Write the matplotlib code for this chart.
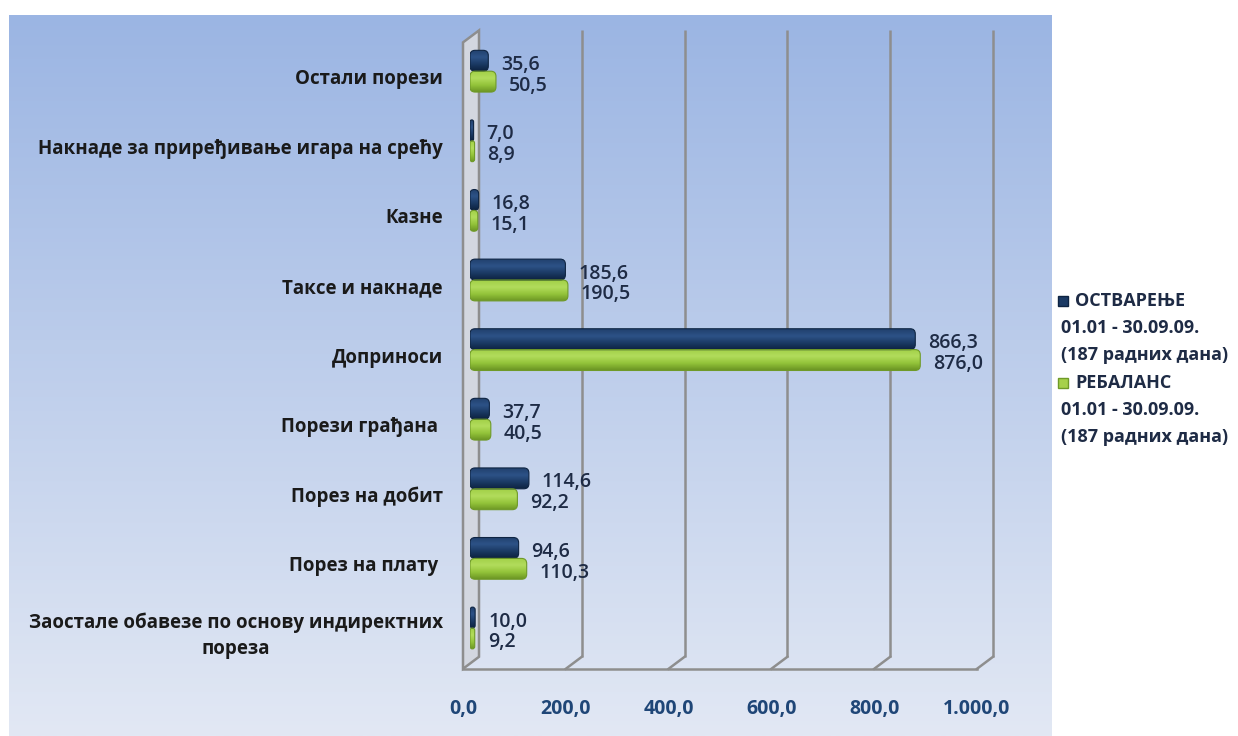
import numpy as np
import matplotlib.pyplot as plt
from matplotlib.patches import FancyBboxPatch, Polygon, Rectangle
from matplotlib.colors import LinearSegmentedColormap
from matplotlib.transforms import offset_copy, IdentityTransform

plt.rcParams['font.family'] = ['Open Sans', 'DejaVu Sans']

# categories listed top to bottom as in the chart
categories = ['Остали порези',
              'Накнаде за приређивање игара на срећу',
              'Казне',
              'Таксе и накнаде',
              'Доприноси',
              'Порези грађана ',
              'Порез на добит',
              'Порез на плату ',
              'Заостале обавезе по основу индиректних\nпореза']
ostvarenje = [35.6, 7.0, 16.8, 185.6, 866.3, 37.7, 114.6, 94.6, 10.0]
rebalans = [50.5, 8.9, 15.1, 190.5, 876.0, 40.5, 92.2, 110.3, 9.2]
xticks = [0, 200, 400, 600, 800, 1000]
xtick_labels = ['0,0', '200,0', '400,0', '600,0', '800,0', '1.000,0']
legend_labels = [['ОСТВАРЕЊЕ', '01.01 - 30.09.09.', '(187 радних дана)'],
                 ['РЕБАЛАНС', '01.01 - 30.09.09.', '(187 радних дана)']]

dark = '#1B3A64'
green = '#98C93C'
grid_c = '#8E8E8E'
text_c = '#1E2B45'
tick_c = '#1F4677'

W, H = 1238, 736
fig = plt.figure(figsize=(W / 100, H / 100), dpi=100)

# gradient background panel
bg = fig.add_axes([9 / W, 0, (1052 - 9) / W, (H - 15) / H], zorder=-5)
top = np.array([155, 181, 227]) / 255
bot = np.array([226, 232, 244]) / 255
t = np.linspace(0, 1, 256)[:, None]
grad = top[None, :] * (1 - t) + bot[None, :] * t
bg.imshow(grad[:, None, :], aspect='auto', extent=[0, 1, 0, 1])
bg.axis('off')

ax = fig.add_axes([470 / W, (H - 662.8) / H, 514 / W, 626.4 / H])
ax.set_facecolor('none')
ax.axis('off')

n = len(categories)
y = np.arange(n)[::-1]
bh = 0.30

front = offset_copy(ax.transData, fig, x=-7, y=-6, units='dots')
back = offset_copy(ax.transData, fig, x=9, y=6, units='dots')

# bars
b1 = ax.barh(y + bh / 2, ostvarenje, height=bh, color=dark)
b2 = ax.barh(y - bh / 2, rebalans, height=bh, color=green)
ax.set_xlim(0, 1000)
ax.set_ylim(-0.5, 8.5)

# left wall
fb = ax.transData.transform((0, -0.5))
ft = ax.transData.transform((0, 8.5))
wall = Polygon([fb + [-7, -6], ft + [-7, -6], ft + [9, 6], fb + [9, 6]],
               closed=True, transform=IdentityTransform(), clip_on=False,
               facecolor='#D3D7E0', edgecolor=grid_c, lw=1.8, zorder=1)
ax.add_patch(wall)

# back wall gridlines
for v in xticks[1:]:
    ax.plot([v, v], [-0.5, 8.5], color=grid_c, lw=1.8, transform=back,
            zorder=0.5, solid_capstyle='butt', clip_on=False)
# floor front edge and depth diagonals
ax.plot([0, 1000], [-0.5, -0.5], color=grid_c, lw=1.8, transform=front,
        zorder=0.5, clip_on=False)
for v in xticks[1:]:
    p = ax.transData.transform((v, -0.5))
    ax.plot([p[0] - 7, p[0] + 9], [p[1] - 6, p[1] + 6], color=grid_c, lw=1.8,
            transform=IdentityTransform(), zorder=0.5, clip_on=False)

# rounded, shaded bars
asp = (9 / 626.4) / (1000 / 514)
cm_dark = LinearSegmentedColormap.from_list('d', ['#0D2240', '#1B3A64', '#2D5287', '#21416E'])
cm_green = LinearSegmentedColormap.from_list('g', ['#6C9624', '#94C43A', '#B2DC5C', '#A2D048'])
shade = np.linspace(0, 1, 64)[:, None]
for bars, cm, edge in [(b1, cm_dark, '#0E2442'), (b2, cm_green, '#6F9A28')]:
    for r in bars:
        x0, y0 = r.get_x(), r.get_y()
        w, h = r.get_width(), r.get_height()
        r.set_visible(False)
        rs = min(10, w / 2)
        patch = FancyBboxPatch((x0, y0), w, h,
                               boxstyle=f'round,pad=0,rounding_size={rs}',
                               mutation_aspect=asp, facecolor='none',
                               edgecolor=edge, lw=0.8, zorder=4)
        ax.add_patch(patch)
        im = ax.imshow(shade, cmap=cm, aspect='auto', origin='lower',
                       extent=[x0, x0 + w, y0, y0 + h], zorder=3,
                       interpolation='bilinear')
        im.set_clip_path(patch)
ax.set_xlim(0, 1000)
ax.set_ylim(-0.5, 8.5)

# value labels
lab_t = offset_copy(ax.transData, fig, x=13, y=-4, units='dots')
for yy, v in zip(y, ostvarenje):
    ax.text(v, yy + bh / 2, f'{v:.1f}'.replace('.', ','), transform=lab_t,
            ha='left', va='center', fontsize=14, fontweight='semibold',
            color=text_c)
for yy, v in zip(y, rebalans):
    ax.text(v, yy - bh / 2, f'{v:.1f}'.replace('.', ','), transform=lab_t,
            ha='left', va='center', fontsize=14, fontweight='semibold',
            color=text_c)

# category labels
cat_t = offset_copy(ax.transData, fig, x=-27, y=-8, units='dots')
for yy, c in zip(y, categories):
    ax.text(0, yy, c, transform=cat_t, ha='right', va='center',
            multialignment='center', fontsize=13.5, fontweight='bold',
            color='#1A1A1A', linespacing=1.4)

# x tick labels
tick_t = offset_copy(ax.transData, fig, x=-7, y=-46, units='dots')
for v, s in zip(xticks, xtick_labels):
    ax.text(v, -0.5, s, transform=tick_t, ha='center', va='center',
            fontsize=14, fontweight='bold', color=tick_c)

# legend
lx, ly = 1058, [301, 383]
for (lines, col, edge) in zip(legend_labels, [dark, '#A6D14A'], ['#0E2442', '#6F9A28']):
    yy = ly.pop(0)
    fig.patches.append(Rectangle(((lx) / W, (H - yy - 5) / H), 10 / W, 10 / H,
                                 transform=fig.transFigure, facecolor=col,
                                 edgecolor=edge, lw=1))
    fig.text((lx + 17) / W, (H - yy) / H, lines[0], ha='left', va='center',
             fontsize=13, fontweight='bold', color=text_c)
    for k, s in enumerate(lines[1:]):
        fig.text((lx + 3) / W, (H - yy - 27 * (k + 1)) / H, s, ha='left',
                 va='center', fontsize=13, fontweight='bold', color=text_c)

fig.savefig('out.png', dpi=100)
